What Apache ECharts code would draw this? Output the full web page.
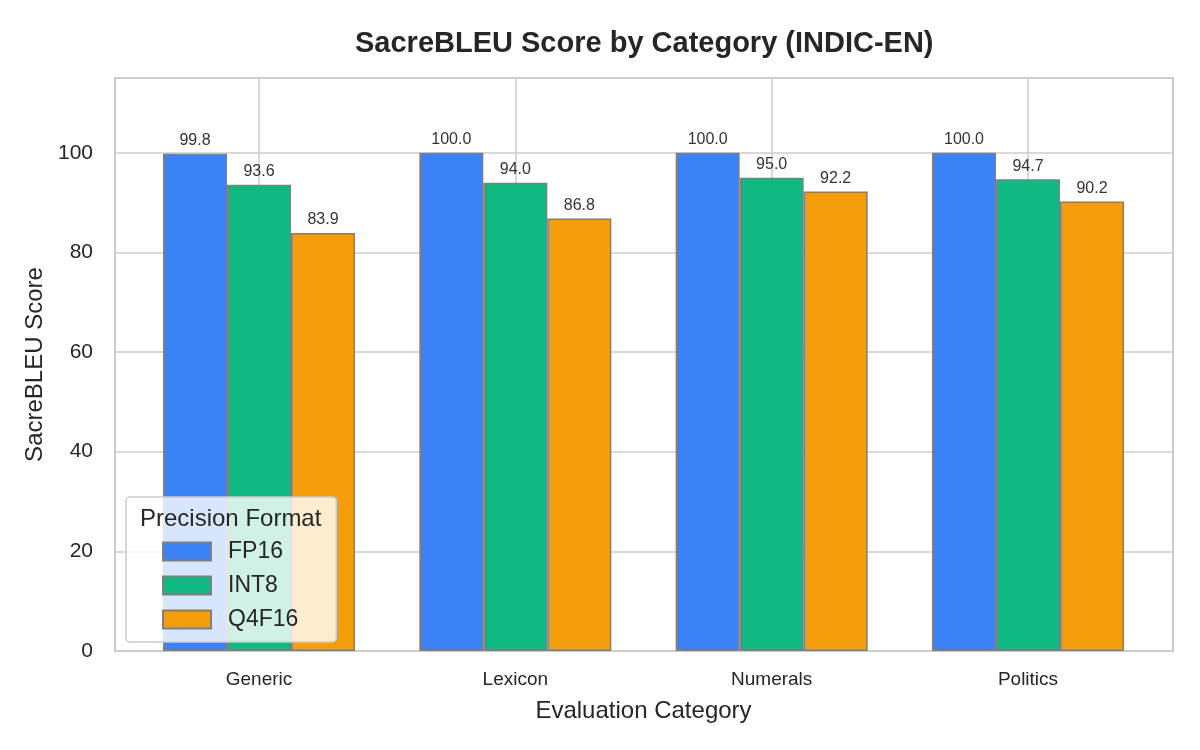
<!DOCTYPE html>
<html>
<head>
<meta charset="utf-8">
<script src="https://cdn.jsdelivr.net/npm/echarts@6/dist/echarts.min.js"></script>
<style>
  html, body { margin: 0; padding: 0; background: #fff; }
  #chart { width: 1200px; height: 750px; }
</style>
</head>
<body>
<div id="chart"></div>
<script>
// 数据
var categories = ['Generic', 'Lexicon', 'Numerals', 'Politics'];
var fp16 = [99.8, 100.0, 100.0, 100.0];
var int8 = [93.6, 94.0, 95.0, 94.7];
var q4f16 = [83.9, 86.8, 92.2, 90.2];
var seriesNames = ['FP16', 'INT8', 'Q4F16'];
var colors = ['#3b82f6', '#10b981', '#f59e0b'];

var font = 'Arial, "Liberation Sans", sans-serif';
var gridColor = '#cccccc';
var textColor = '#262626';

function barSeries(name, data, color) {
  return {
    name: name,
    type: 'bar',
    xAxisIndex: 1,
    yAxisIndex: 1,
    data: data,
    barWidth: 64,
    barGap: '0%',
    clip: false,
    itemStyle: { color: color, borderColor: '#7f7f7f', borderWidth: 1.5 },
    label: {
      show: true,
      position: 'top',
      distance: 5,
      fontFamily: font,
      fontSize: 16,
      color: '#333',
      formatter: function (p) { return p.value.toFixed(1); }
    }
  };
}

var chart = echarts.init(document.getElementById('chart'));

var option = {
  animation: false,
  title: [{
    text: 'SacreBLEU Score by Category (INDIC-EN)',
    left: 350,
    top: 24,
    textStyle: { fontFamily: font, fontSize: 29, fontWeight: 'bold', color: textColor }
  }, {
    // 图例标题
    text: 'Precision Format',
    left: 135,
    top: 502,
    z: 10,
    textStyle: { fontFamily: font, fontSize: 24, fontWeight: 'normal', color: textColor }
  }],
  grid: [
    // 外框 + 水平网格
    { left: 115, right: 27, top: 78, bottom: 99, show: true, borderColor: gridColor, borderWidth: 2, backgroundColor: 'transparent' },
    // 柱子所在区域
    { left: 259, right: 172, top: 78, bottom: 99 }
  ],
  legend: {
    data: seriesNames,
    orient: 'vertical',
    left: 126,
    top: 497,
    padding: [43, 38, 11, 36],
    icon: 'rect',
    itemWidth: 48,
    itemHeight: 18,
    itemGap: 11,
    backgroundColor: 'rgba(255,255,255,0.8)',
    borderColor: gridColor,
    borderWidth: 1.5,
    borderRadius: 4,
    textStyle: { fontFamily: font, fontSize: 23, color: textColor, padding: [0, 0, 0, 12] }
  },
  xAxis: [{
    type: 'value',
    gridIndex: 0,
    show: false
  }, {
    type: 'category',
    gridIndex: 1,
    data: categories,
    boundaryGap: false,
    name: 'Evaluation Category',
    nameLocation: 'middle',
    nameGap: 48,
    nameTextStyle: { fontFamily: font, fontSize: 24, color: textColor },
    axisLine: { show: false },
    axisTick: { show: false },
    axisLabel: { fontFamily: font, fontSize: 19, color: textColor, margin: 19 },
    splitLine: { show: true, lineStyle: { color: gridColor, width: 1.5 } }
  }],
  yAxis: [{
    type: 'value',
    gridIndex: 0,
    min: 0,
    max: 115,
    interval: 20,
    name: 'SacreBLEU Score',
    nameLocation: 'middle',
    nameGap: 68,
    nameTextStyle: { fontFamily: font, fontSize: 24, color: textColor },
    axisLine: { show: false },
    axisTick: { show: false },
    axisLabel: { fontFamily: font, fontSize: 21, color: textColor, margin: 22, showMaxLabel: false },
    splitLine: { show: true, lineStyle: { color: gridColor, width: 1.5 } }
  }, {
    type: 'value',
    gridIndex: 1,
    min: 0,
    max: 115,
    show: false,
    splitLine: { show: false }
  }],
  series: [
    barSeries(seriesNames[0], fp16, colors[0]),
    barSeries(seriesNames[1], int8, colors[1]),
    barSeries(seriesNames[2], q4f16, colors[2])
  ]
};

chart.setOption(option);
</script>
</body>
</html>
